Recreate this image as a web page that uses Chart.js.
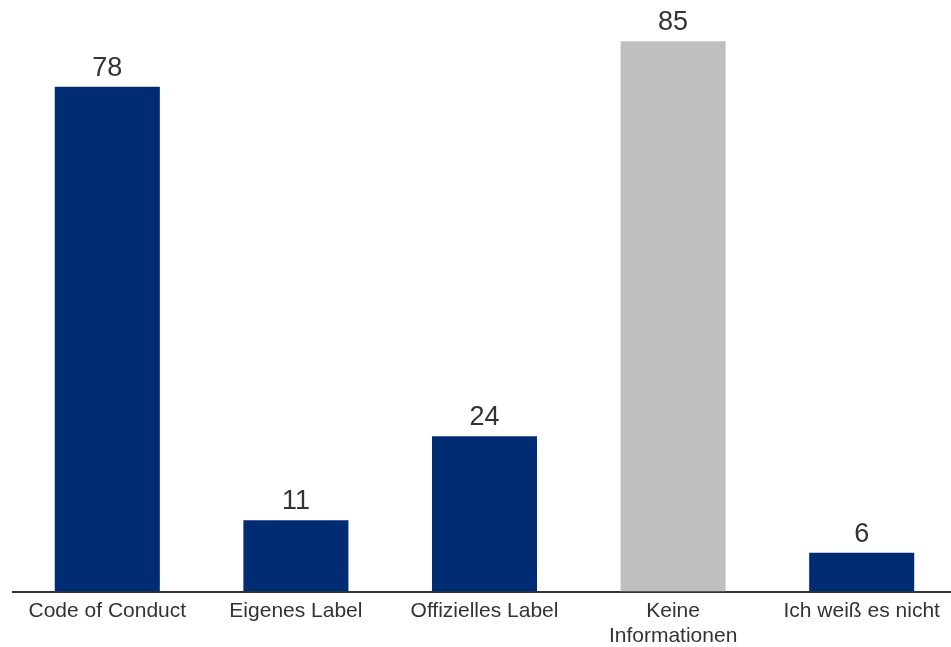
<!DOCTYPE html>
<html>
<head>
<meta charset="utf-8">
<script src="https://cdn.jsdelivr.net/npm/chart.js@4/dist/chart.umd.min.js"></script>
<style>
  html, body { margin: 0; padding: 0; background: #fff; overflow: hidden; }
  #wrap { width: 957px; height: 647px; }
</style>
</head>
<body>
<div id="wrap"><canvas id="chart" width="957" height="647"></canvas></div>
<script>
/* ---------- Data ---------- */
const categories = [
  "Code of Conduct",
  "Eigenes Label",
  "Offizielles Label",
  ["Keine", "Informationen"],
  "Ich weiß es nicht",
];
const values = [78, 11, 24, 85, 6];
const barColors = ["#002C73", "#002C73", "#002C73", "#BFBFBF", "#002C73"];

const FONT = "'Liberation Sans', Arial, sans-serif";
const TEXT = "#333333";

/* ---------- Value labels above bars ---------- */
const valueLabels = {
  id: "valueLabels",
  afterDatasetsDraw(chart) {
    const ctx = chart.ctx;
    const meta = chart.getDatasetMeta(0);
    ctx.save();
    ctx.font = "27px " + FONT;
    ctx.fillStyle = TEXT;
    ctx.textAlign = "center";
    ctx.textBaseline = "alphabetic";
    meta.data.forEach((bar, i) => {
      ctx.fillText(String(values[i]), bar.x, bar.y - 11);
    });
    ctx.restore();
  },
};

/* ---------- Chart ---------- */
new Chart(document.getElementById("chart"), {
  type: "bar",
  data: {
    labels: categories,
    datasets: [{
      data: values,
      backgroundColor: barColors,
      borderWidth: 0,
      barPercentage: 0.557,
      categoryPercentage: 1,
    }],
  },
  options: {
    responsive: false,
    animation: false,
    layout: { padding: { top: 9, left: 13, right: 1, bottom: 0 } },
    plugins: { legend: { display: false }, tooltip: { enabled: false } },
    scales: {
      y: { display: false, min: 0, max: 90 },
      x: {
        grid: { display: false, drawTicks: false },
        border: { display: true, color: "#333333", width: 2 },
        ticks: {
          color: TEXT,
          font: { family: FONT, size: 21, lineHeight: 1.15 },
          padding: 8,
          maxRotation: 0,
          autoSkip: false,
        },
        afterFit: (s) => { s.height = 55.5; },
      },
    },
  },
  plugins: [valueLabels],
});
</script>
</body>
</html>
